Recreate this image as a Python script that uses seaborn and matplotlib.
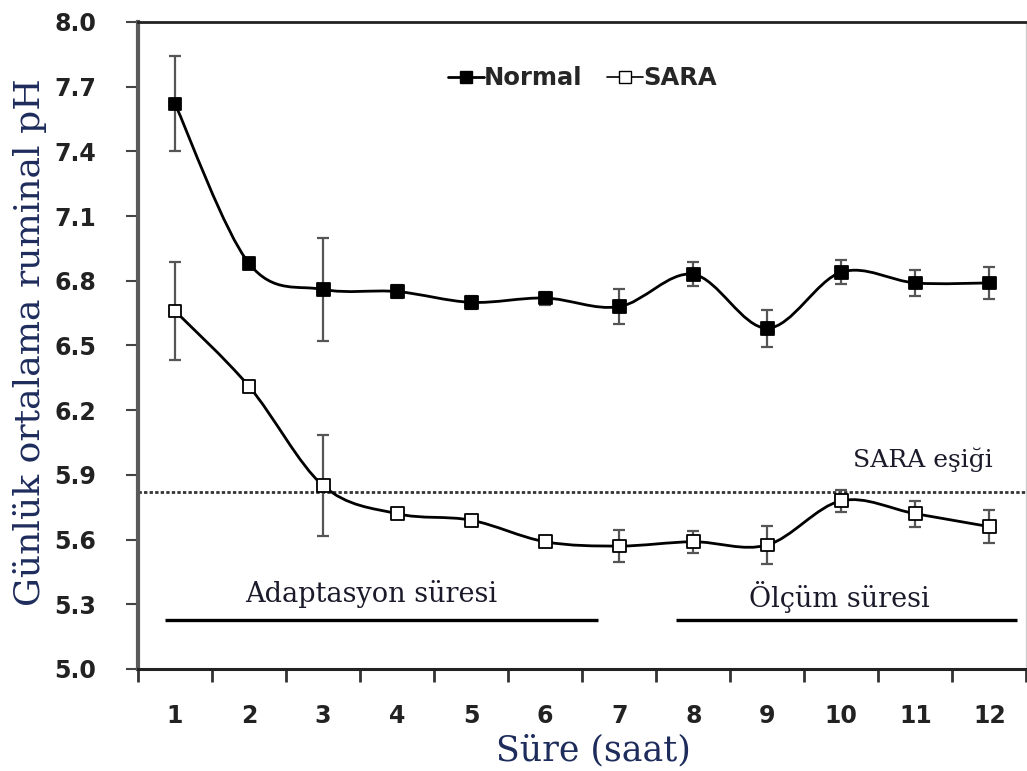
import numpy as np
import pandas as pd
import matplotlib
matplotlib.use("Agg")
import matplotlib.pyplot as plt
from matplotlib.path import Path
from matplotlib.patches import PathPatch
from matplotlib.lines import Line2D
import seaborn as sns

# Hours and mean daily ruminal pH (± error) for each group
hours = [1, 2, 3, 4, 5, 6, 7, 8, 9, 10, 11, 12]
normal_ph = [7.62, 6.88, 6.76, 6.75, 6.70, 6.72, 6.68, 6.83, 6.58, 6.84, 6.79, 6.79]
normal_err = [0.22, 0.02, 0.24, 0.03, 0.03, 0.03, 0.08, 0.055, 0.085, 0.055, 0.06, 0.075]
sara_ph = [6.66, 6.31, 5.85, 5.72, 5.69, 5.59, 5.57, 5.59, 5.575, 5.78, 5.72, 5.66]
sara_err = [0.225, 0.02, 0.235, 0.02, 0.02, 0.02, 0.075, 0.05, 0.09, 0.05, 0.06, 0.075]

sara_threshold = 5.82
y_ticks = [5.0, 5.3, 5.6, 5.9, 6.2, 6.5, 6.8, 7.1, 7.4, 7.7, 8.0]

# Study periods drawn as bars under the curves: (label, start, end)
periods = [("Adaptasyon süresi", 0.87, 6.72), ("Ölçüm süresi", 7.77, 12.37)]
period_level = 5.225

df = pd.DataFrame({
    "Süre": hours * 2,
    "pH": normal_ph + sara_ph,
    "err": normal_err + sara_err,
    "Grup": ["Normal"] * 12 + ["SARA"] * 12,
})

sns.set_style("white")
plt.rcParams["font.family"] = ["DejaVu Sans"]

fig = plt.figure(figsize=(10.27, 7.71), dpi=100)
ax = fig.add_axes([0.1344, 0.1323, 0.865, 0.8392])

serif_col = "#1e2c5c"
note_col = "#1a1a2a"


def smooth_path(x, y):
    """Cubic Bezier path through the points (spreadsheet-style smoothing)."""
    pts = np.column_stack([x, y]).astype(float)
    n = len(pts)
    verts = [pts[0]]
    codes = [Path.MOVETO]
    for i in range(n - 1):
        p0 = pts[i - 1] if i > 0 else pts[i]
        p1 = pts[i]
        p2 = pts[i + 1]
        p3 = pts[i + 2] if i + 2 < n else pts[i + 1]
        c1 = p1 + (p2 - p0) / 6.0
        c2 = p2 - (p3 - p1) / 6.0
        verts += [c1, c2, p2]
        codes += [Path.CURVE4] * 3
    return Path(verts, codes)


# Smoothed lines
for grp in ["Normal", "SARA"]:
    sub = df[df["Grup"] == grp]
    ax.add_patch(PathPatch(smooth_path(sub["Süre"], sub["pH"]), fill=False,
                           edgecolor="black", linewidth=2.0, zorder=3))

# Error bars
for grp in ["Normal", "SARA"]:
    sub = df[df["Grup"] == grp]
    ax.errorbar(sub["Süre"], sub["pH"], yerr=sub["err"], fmt="none",
                ecolor="#555555", elinewidth=1.6, capsize=4, capthick=1.6, zorder=2)

# Markers
sns.scatterplot(data=df, x="Süre", y="pH", hue="Grup", style="Grup",
                markers={"Normal": "s", "SARA": "s"},
                palette={"Normal": "black", "SARA": "white"},
                edgecolor="black", linewidth=1.3, s=85, legend=False, ax=ax, zorder=4)

# SARA threshold
ax.axhline(sara_threshold, color="#333333", linestyle=(0, (1.2, 0.8)), linewidth=2.0, zorder=1)
ax.text(11.1, 5.935, "SARA eşiği", family="DejaVu Serif",
        fontsize=18, color=note_col, ha="center", va="baseline")

# Period bars and labels
for label, x0, x1 in periods:
    ax.plot([x0, x1], [period_level, period_level], color="black", linewidth=2.4,
            solid_capstyle="butt", zorder=1)
ax.text(3.65, 5.31, periods[0][0], family="DejaVu Serif", fontsize=19.5,
        color=note_col, ha="center", va="baseline")
ax.text(9.98, 5.287, periods[1][0], family="DejaVu Serif", fontsize=19.5,
        color=note_col, ha="center", va="baseline")

# Axes limits and ticks
ax.set_xlim(0.5, 12.45)
ax.set_ylim(5.0, 8.0)
ax.set_yticks(y_ticks)
ax.set_yticklabels([f"{v:.1f}" for v in y_ticks])
ax.set_xticks(hours)
ax.set_xticklabels([str(h) for h in hours])
ax.set_xticks(np.arange(0.5, 12.6, 1.0), minor=True)

ax.tick_params(axis="y", which="major", left=True, direction="out", length=9, width=1.5,
               color="#444444", labelsize=17, pad=21, labelcolor="#222222")
ax.tick_params(axis="x", which="major", bottom=True, length=0, labelsize=17, pad=25,
               labelcolor="#222222")
ax.tick_params(axis="x", which="minor", bottom=True, direction="out", length=9, width=2,
               color="#333333")
for lab in ax.get_yticklabels() + ax.get_xticklabels():
    lab.set_fontweight("bold")

# Frame
ax.spines["left"].set_color("#5a5a5a")
ax.spines["left"].set_linewidth(3.0)
ax.spines["bottom"].set_color("#222222")
ax.spines["bottom"].set_linewidth(2.2)
ax.spines["top"].set_color("#222222")
ax.spines["top"].set_linewidth(2.0)
ax.spines["right"].set_color("#cccccc")
ax.spines["right"].set_linewidth(1.0)

ax.set_xlabel("Süre (saat)", family="DejaVu Serif", fontsize=25, color=serif_col)
ax.xaxis.set_label_coords(0.513, -0.100)
ax.set_ylabel("Günlük ortalama ruminal pH", family="DejaVu Serif", fontsize=26,
              color=serif_col)
ax.yaxis.set_label_coords(-0.102, 0.505)

# Legend
handles = [
    Line2D([], [], color="black", linewidth=2, marker="s", markersize=8,
           markerfacecolor="black", markeredgecolor="black"),
    Line2D([], [], color="black", linewidth=1.2, marker="s", markersize=8,
           markerfacecolor="white", markeredgecolor="black"),
]
leg = ax.legend(handles, ["Normal", "SARA"], loc="center", bbox_to_anchor=(0.5, 0.913),
                ncol=2, frameon=False, handlelength=1.5, handletextpad=0.0,
                columnspacing=1.0, prop={"weight": "bold", "size": 17.5})

fig.savefig("out.png", dpi=100)
